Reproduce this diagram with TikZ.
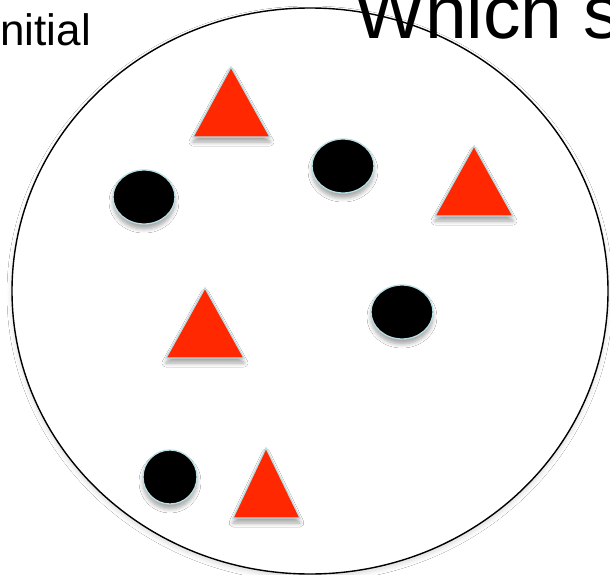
\documentclass[tikz,border=0pt]{standalone}
\usepackage{fontspec}
\setmainfont{Liberation Sans}
\usetikzlibrary{shadows.blur}
\definecolor{tri}{RGB}{255,40,0}
\definecolor{rim}{RGB}{185,222,228}
\tikzset{
  shapeshadow/.style={blur shadow={shadow xshift=0pt, shadow yshift=-5pt, shadow blur radius=4pt, shadow blur steps=6, shadow opacity=35}},
  redtri/.style={fill=tri, draw=rim, line width=1.3pt, line join=miter, shapeshadow},
  blackdot/.style={fill=black, draw=rim, line width=1.3pt, shapeshadow},
  bigring/.style={draw=black, line width=1.4pt, fill=white, blur shadow={shadow xshift=0pt, shadow yshift=-3pt, shadow blur radius=5pt, shadow blur steps=8, shadow opacity=15}}
}
\begin{document}
\begin{tikzpicture}[x=1pt,y=-1pt]
\useasboundingbox (0,0) rectangle (610,575);
\fill[white] (0,0) rectangle (610,575);
% big set
\draw[bigring] (310,291) ellipse [x radius=298, y radius=283];
% texts
\node[anchor=base east, font=\fontsize{44}{44}\selectfont, inner sep=0pt] (initial) at (91,46) {nitial};
\node[anchor=base west, font=\fontsize{75}{75}\selectfont, inner sep=0pt] (which) at (354,39) {Which s};
% triangles
\path[redtri] (231,67) -- (193,137) -- (270,137) -- cycle;
\path[redtri] (474,146) -- (435,216) -- (513,216) -- cycle;
\path[redtri] (205,288) -- (166,358) -- (244,358) -- cycle;
\path[redtri] (266,448) -- (233,518) -- (300,518) -- cycle;
% dots
\path[blackdot] (144,197) ellipse [x radius=31, y radius=27];
\path[blackdot] (343,166) ellipse [x radius=31, y radius=27];
\path[blackdot] (402,312) ellipse [x radius=31, y radius=27];
\path[blackdot] (170,477) ellipse [x radius=27, y radius=27];
\end{tikzpicture}
\end{document}
